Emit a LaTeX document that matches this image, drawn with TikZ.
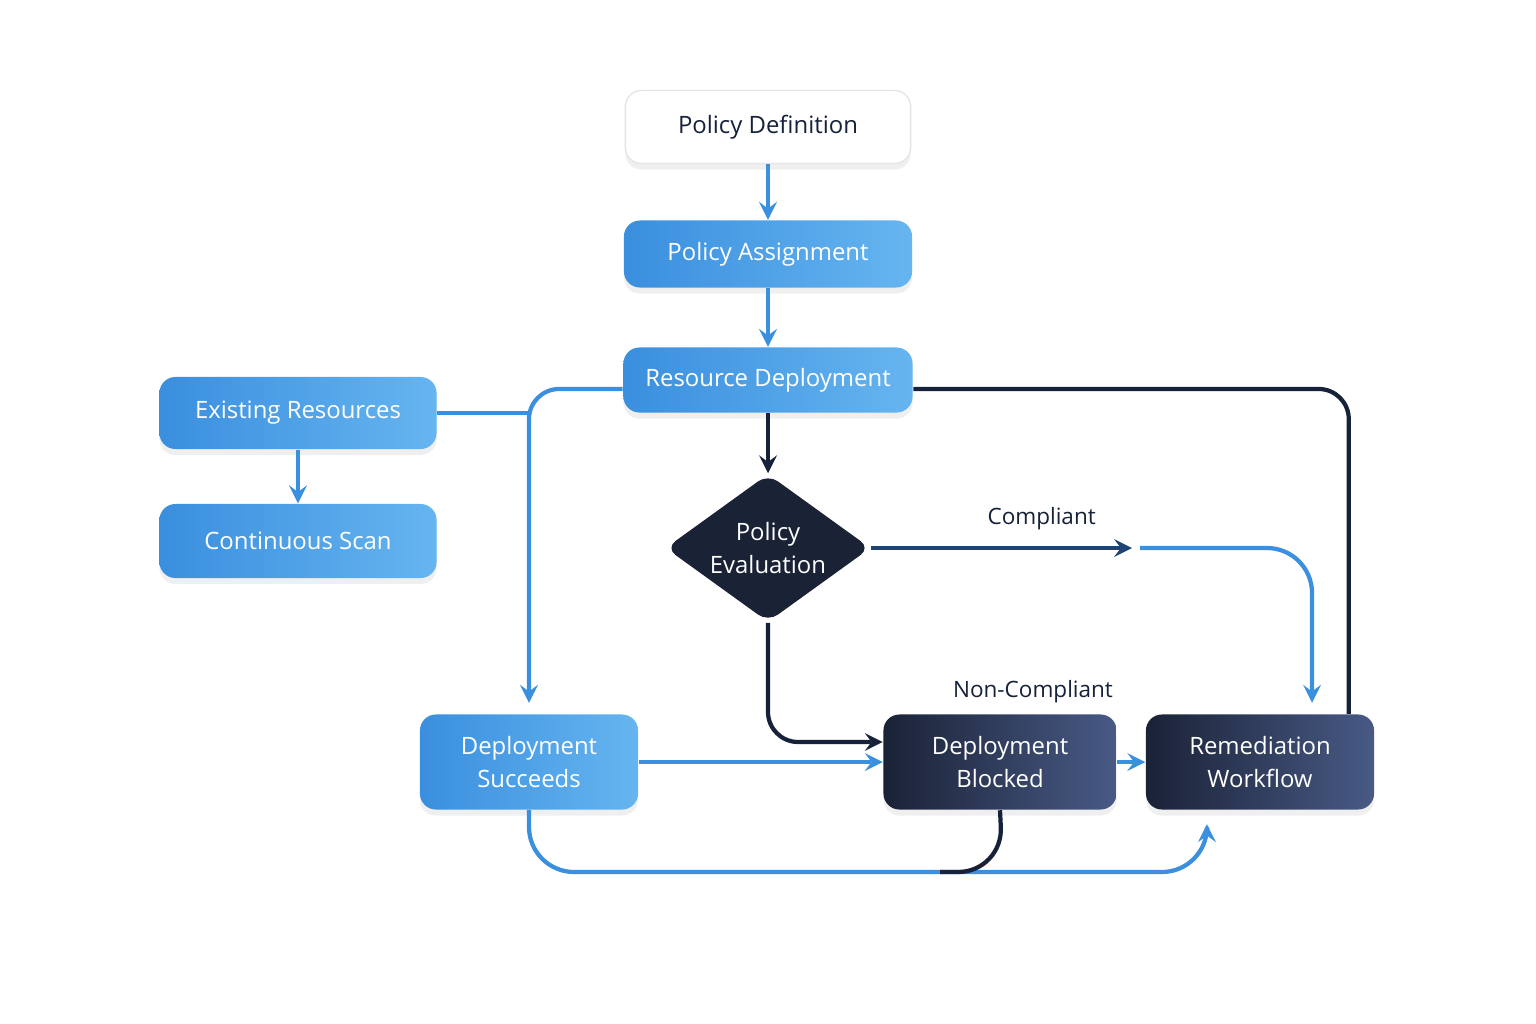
\documentclass[tikz,border=0pt]{standalone}
\usepackage{fontspec}
\setmainfont{Open Sans}
\usetikzlibrary{shapes.geometric,shadows}
\definecolor{lblue}{HTML}{66B5F0}
\definecolor{mblue}{HTML}{3A8FDE}
\definecolor{dblue}{HTML}{2B78D0}
\definecolor{navy}{HTML}{1A2236}
\definecolor{slate}{HTML}{485A85}
\definecolor{ink}{HTML}{16213A}
\tikzstyle{box}=[rounded corners=0.16cm,align=center,inner sep=0pt,font=\fontsize{6.8}{9.6}\selectfont,drop shadow={shadow xshift=0pt,shadow yshift=-0.06cm,opacity=0.12}]
\tikzstyle{light}=[box,text=white,left color=mblue,right color=lblue]
\tikzstyle{deep}=[box,text=white,left color=navy,right color=slate]
\tikzstyle{flow}=[draw,line width=1.2pt,->,>=stealth,mblue,rounded corners=0.3cm]
\tikzstyle{dark flow}=[flow,ink]
\tikzstyle{tag}=[font=\fontsize{6.4}{8}\selectfont,text=ink]
\begin{document}
\begin{tikzpicture}[x=0.01cm,y=-0.01cm]
\useasboundingbox[fill=white] (0,0) rectangle (1536,1024);
\node[box,draw=gray!20,fill=white,text=ink,minimum width=2.85cm,minimum height=0.73cm] (def) at (768,127) {Policy Definition};
\foreach \pos/\name/\w/\h/\txt in {{(768,254)/assign/2.88/0.67/Policy Assignment},
                                  {(768,380)/deploy/2.89/0.65/Resource Deployment},
                                  {(298,413)/exist/2.77/0.72/Existing Resources},
                                  {(298,541)/scan/2.77/0.74/Continuous Scan},
                                  {(529,762)/ok/2.18/0.95/Deployment\\Succeeds}}{
  \node[light,minimum width=\w cm,minimum height=\h cm] (\name) at \pos {\txt};
}
\foreach \pos/\name/\w/\txt in {{(1000,762)/blocked/2.33/Deployment\\Blocked},
                               {(1260,762)/remed/2.28/Remediation\\Workflow}}{
  \node[deep,minimum width=\w cm,minimum height=0.95cm] (\name) at \pos {\txt};
}
\node[diamond,fill=navy,text=white,rounded corners=0.12cm,minimum width=2.05cm,minimum height=1.48cm,aspect=1.4,inner sep=0pt,align=center,font=\fontsize{6.8}{9.6}\selectfont] (eval) at (768,548) {Policy\\Evaluation};
\coordinate (join) at (529,413);
\coordinate (mid) at (1136,548);
\path[flow] (def) -- (assign);
\path[flow] (assign) -- (deploy);
\path[dark flow] (deploy) -- (eval);
\path[flow] (exist) -- (scan);
\path[flow,-] (exist.east) -- (join);
\path[flow] (deploy.west |- 0,389) -| ([yshift=0.11cm]ok.north);
\path[dark flow,-] (deploy.east |- 0,389) -| ([xshift=-0.26cm]remed.north east);
\path[flow,ink!60!dblue] (eval.east) -- node[tag,above=0.04cm,xshift=0.4cm] {Compliant} ([xshift=-0.04cm]mid);
\path[flow,rounded corners=0.45cm] ([xshift=0.04cm]mid) -| ([xshift=0.52cm,yshift=0.11cm]remed.north);
\path[dark flow] (eval.south) |- ([yshift=0.2cm]blocked.west);
\node[tag] (nc) at (1033,692) {Non-Compliant};
\path[flow] (ok) -- (blocked);
\path[flow] (blocked) -- (remed);
\path[flow,rounded corners=0.45cm] (ok.south) -- (529,872) -- (1207,872) -- ([xshift=-0.53cm,yshift=-0.14cm]remed.south);
\path[dark flow,-,rounded corners=0.45cm] (blocked.south) -- (1003,872) -- (940,872);
\end{tikzpicture}
\end{document}
